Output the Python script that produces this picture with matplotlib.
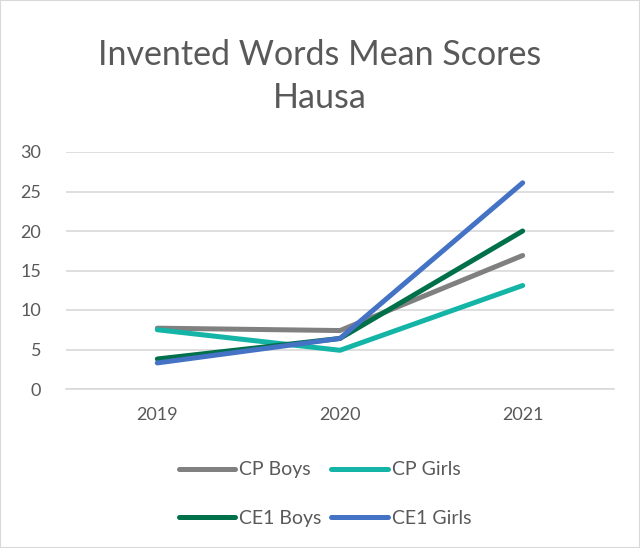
import matplotlib
matplotlib.use("Agg")
import matplotlib.pyplot as plt
from matplotlib.patches import Rectangle

years = ["2019", "2020", "2021"]
cp_boys = [7.7, 7.4, 16.9]
cp_girls = [7.5, 4.9, 13.1]
ce1_boys = [3.8, 6.4, 20.0]
ce1_girls = [3.3, 6.4, 26.1]
series_names = ["CP Boys", "CP Girls", "CE1 Boys", "CE1 Girls"]
colors = ["#808080", "#14b5a6", "#00704a", "#4472c4"]
yticks = [0, 5, 10, 15, 20, 25, 30]

plt.rcParams['font.family'] = ['Lato', 'DejaVu Sans']

fig = plt.figure(figsize=(6.4, 5.48), dpi=100)
ax = fig.add_axes([66/640, 1-389/548, (614-66)/640, (389-152)/548])

x = list(range(len(years)))
handles = []
for vals, name, c in zip([cp_boys, cp_girls, ce1_boys, ce1_girls], series_names, colors):
    h, = ax.plot(x, vals, color=c, lw=3.6, label=name, solid_capstyle='round', solid_joinstyle='round')
    handles.append(h)

ax.set_xlim(-0.5, 2.5)
ax.set_ylim(0, 30)
ax.set_yticks(yticks)
ax.set_xticks(x)
ax.set_xticklabels(years)
ax.grid(axis='y', color='#d9d9d9', lw=1.2)
ax.set_axisbelow(True)
for s in ['top', 'right', 'left']:
    ax.spines[s].set_visible(False)
ax.spines['bottom'].set_color('#d9d9d9')
ax.spines['bottom'].set_linewidth(1.2)
ax.tick_params(axis='both', length=0, labelsize=13, colors='#595959')
ax.tick_params(axis='y', pad=18)
ax.tick_params(axis='x', pad=13)

fig.text(0.5, 1-55/548, "Invented Words Mean Scores", ha='center', va='center', fontsize=24.5, color='#595959')
fig.text(0.5, 1-98/548, "Hausa", ha='center', va='center', fontsize=24.5, color='#595959')

order = [0, 2, 1, 3]
leg = fig.legend([handles[i] for i in order], [series_names[i] for i in order],
                 loc='center', bbox_to_anchor=(325/640, 1-494/548), ncol=2, frameon=False,
                 fontsize=14, handlelength=2.9, handletextpad=0.2, columnspacing=0.5,
                 labelspacing=1.6, labelcolor='#595959')

fig.add_artist(Rectangle((0, 0), 1, 1, transform=fig.transFigure, fill=False,
                         edgecolor='#d9d9d9', lw=1.5))

fig.savefig("out.png", dpi=100)
